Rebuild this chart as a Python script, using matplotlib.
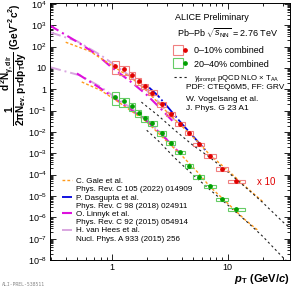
import matplotlib
import matplotlib.pyplot as plt
import numpy as np
from matplotlib.lines import Line2D
from matplotlib.legend_handler import HandlerTuple
from matplotlib.ticker import FuncFormatter, LogLocator, NullFormatter

matplotlib.use('Agg')

plt.rcParams['font.family'] = 'Liberation Sans'
plt.rcParams['mathtext.fontset'] = 'custom'
plt.rcParams['mathtext.rm'] = 'Liberation Sans'
plt.rcParams['mathtext.it'] = 'Liberation Sans:italic'
plt.rcParams['mathtext.bf'] = 'Liberation Sans:bold'
plt.rcParams['mathtext.bfit'] = 'Liberation Sans:italic:bold'

# measured points (0-10% already scaled x10)
pt = [1.07, 1.28, 1.5, 1.7, 1.93, 2.22, 2.7, 3.22, 3.9, 4.6, 5.6, 7.1, 9.0, 11.8]
pt_lo = [1.0, 1.15, 1.4, 1.6, 1.8, 2.05, 2.45, 2.95, 3.5, 4.3, 5.0, 6.3, 8.0, 10.0]
pt_hi = [1.15, 1.4, 1.6, 1.8, 2.05, 2.45, 2.95, 3.5, 4.3, 5.0, 6.3, 8.0, 10.0, 14.0]
central = [12.5, 8.5, 4.8, 2.5, 1.4, 0.7, 0.2, 0.07, 0.024, 0.009, 0.0027, 7.6e-4, 1.9e-4, 4.8e-5]
central_sys = [0.6, 0.45, 0.4, 0.35, 0.3, 0.27, 0.25, 0.22, 0.2, 0.2, 0.18, 0.18, 0.18, 0.18]
semi = [0.45, 0.28, 0.164, 0.079, 0.044, 0.026, 0.0085, 0.0032, 0.0011, 2.6e-4, 8e-5, 2.8e-5, 7.0e-6, 2.4e-6]
semi_sys = [0.6, 0.45, 0.4, 0.35, 0.3, 0.27, 0.25, 0.22, 0.2, 0.2, 0.18, 0.18, 0.18, 0.18]

# pQCD NLO x TAA
pqcd_hi_pt = [1.8, 2.5, 3.5, 5.0, 7.0, 10.0, 15.0, 20.0, 30.0, 34.5]
pqcd_hi = [0.25, 0.06, 0.012, 2.4e-3, 6.5e-4, 1.35e-4, 2.0e-5, 5.0e-6, 6.0e-7, 3.2e-7]
pqcd_lo_pt = [2.0, 2.5, 3.5, 5.0, 7.0, 10.0, 15.0, 20.0, 30.0, 34.5]
pqcd_lo = [0.012, 0.004, 6e-4, 1.0e-4, 2.0e-5, 3.8e-6, 5.5e-7, 1.3e-7, 1.3e-8, 6.5e-9]

# models
gale_hi_pt = [0.4, 0.65, 1.0, 1.5, 2.0, 3.0, 4.0, 5.5, 7.0, 10.0, 14.0, 20.0]
gale_hi = [160, 60, 13, 3.2, 0.85, 0.085, 0.019, 3.6e-3, 8.5e-4, 1.6e-4, 3.0e-5, 5.5e-6]
gale_lo_pt = [0.55, 0.8, 1.07, 1.5, 2.0, 3.0, 4.0, 5.5, 7.0, 10.0, 14.0, 18.0]
gale_lo = [2.2, 0.9, 0.32, 0.09, 0.03, 0.0035, 8e-4, 1.3e-4, 2.8e-5, 4.5e-6, 8e-7, 2.6e-7]
dasgupta_pt = [2.1, 2.5, 3.0, 4.0, 5.0, 6.5]
dasgupta = [1.2, 0.5, 0.16, 0.025, 0.0065, 1.3e-3]
linnyk_hi_pt = [0.29, 0.53, 0.75, 0.97, 1.5, 2.0, 2.7, 3.5]
linnyk_hi = [1000, 140, 40, 12, 2.0, 0.55, 0.11, 0.025]
linnyk_lo_pt = [0.5, 0.8, 1.07, 1.5, 2.0, 2.7, 3.8]
linnyk_lo = [5.5, 1.1, 0.35, 0.1, 0.032, 0.0075, 1.1e-3]
vanhees_hi_pt = [0.29, 0.5, 0.8, 1.0, 1.5, 2.0, 2.7, 3.5]
vanhees_hi = [480, 180, 40, 17, 3.5, 0.9, 0.18, 0.035]
vanhees_lo_pt = [0.29, 0.53, 0.8, 1.07, 1.5, 2.0, 2.7, 3.5]
vanhees_lo = [11, 4.5, 1.3, 0.42, 0.12, 0.035, 0.008, 0.0018]

RED, RED_BOX = '#e00000', '#f08080'
GREEN, GREEN_BOX = '#00a000', '#66cc66'
ORANGE, BLUE, MAGENTA, PLUM = '#ff9a1a', '#0000dd', '#dd11dd', '#d9a6e0'

fig = plt.figure(figsize=(2.99, 2.87), dpi=100)
ax = fig.add_axes([0.1656, 0.0941, 0.8044, 0.8954])

# models
for x, y in ((vanhees_hi_pt, vanhees_hi), (vanhees_lo_pt, vanhees_lo)):
    l_vh, = ax.plot(x, y, color=PLUM, lw=1.4, dashes=(6, 2, 1, 2))
for x, y in ((linnyk_hi_pt, linnyk_hi), (linnyk_lo_pt, linnyk_lo)):
    l_li, = ax.plot(x, y, color=MAGENTA, lw=1.5, dashes=(5, 2, 1, 2))
l_da, = ax.plot(dasgupta_pt, dasgupta, color=BLUE, lw=1.3, dashes=(8, 1.5, 1, 1.5))
for x, y in ((gale_hi_pt, gale_hi), (gale_lo_pt, gale_lo)):
    l_ga, = ax.plot(x, y, color=ORANGE, lw=1.0, dashes=(2, 1.5))
for x, y in ((pqcd_hi_pt, pqcd_hi), (pqcd_lo_pt, pqcd_lo)):
    l_pq, = ax.plot(x, y, color='#222222', lw=0.8, dashes=(2, 2.5))

# data with systematic boxes
lo = np.array(pt_lo)
wid = np.array(pt_hi) - lo
for vals, sys, c, cb in ((central, central_sys, RED, RED_BOX),
                         (semi, semi_sys, GREEN, GREEN_BOX)):
    v = np.array(vals)
    s = np.array(sys)
    ax.bar(lo, 2 * s * v, width=wid, bottom=v * (1 - s), align='edge',
           fill=False, edgecolor=cb, lw=0.8, zorder=4)
    ax.plot(pt, vals, 'o', color=c, ms=2.4, mec=c, zorder=5)

ax.set_xscale('log')
ax.set_yscale('log')
ax.set_xlim(0.29, 34.5)
ax.set_ylim(1e-8, 1.1e4)


def log_fmt(v, pos):
    e = int(round(np.log10(v)))
    if e == 0:
        return '1'
    if e == 1:
        return '10'
    return r'$10^{%d}$' % e


ax.yaxis.set_major_locator(LogLocator(base=10, numticks=20))
ax.yaxis.set_minor_locator(LogLocator(base=10, subs=np.arange(2, 10), numticks=20))
ax.yaxis.set_major_formatter(FuncFormatter(log_fmt))
ax.xaxis.set_major_formatter(FuncFormatter(log_fmt))
ax.xaxis.set_minor_formatter(NullFormatter())
ax.yaxis.set_minor_formatter(NullFormatter())
ax.tick_params(which='both', direction='in', top=True, right=True, labelsize=6.5, width=0.6, pad=2)
ax.tick_params(which='major', length=4)
ax.tick_params(which='minor', length=2)
for sp in ax.spines.values():
    sp.set_linewidth(0.7)

ax.set_xlabel(r'$\mathbfit{p}_{\mathbf{T}}$ (GeV/$\mathbfit{c}$)', fontsize=8,
              fontweight='bold', loc='right', labelpad=0)
ax.set_ylabel(r'$\mathbf{\dfrac{1}{2\pi N_{ev.}}\dfrac{d^{2}N_{\gamma,dir}}{p_{T}dp_{T}dy}}$ (GeV$^{\mathbf{-2}}\mathbf{c}^{\mathbf{2}}$)',
              fontsize=7.2, fontweight='bold', loc='top')
ax.yaxis.set_label_coords(-0.086, 1.0)

# header texts
ax.text(0.522, 0.945, 'ALICE Preliminary', transform=ax.transAxes, fontsize=6.5, va='center')
ax.text(0.530, 0.883, r'Pb–Pb $\sqrt{s_{\rm NN}}$ = 2.76 TeV', transform=ax.transAxes,
        fontsize=6.5, va='center')
ax.text(0.568, 0.670, 'PDF: CTEQ6M5, FF: GRV', transform=ax.transAxes, fontsize=6, va='center')
ax.text(0.568, 0.626, 'W. Vogelsang et al.', transform=ax.transAxes, fontsize=6, va='center')
ax.text(0.568, 0.588, 'J. Phys. G 23 A1', transform=ax.transAxes, fontsize=6, va='center')
ax.text(0.863, 0.3035, 'x 10', transform=ax.transAxes, fontsize=7, color=RED, va='center')
fig.text(0.005, 0.004, 'ALI-PREL-538511', fontsize=3.5, color='#888888', family='DejaVu Sans Mono')

box_r = Line2D([], [], ls='none', marker='s', ms=7, mfc='none', mec=RED_BOX, mew=0.8)
dot_r = Line2D([], [], ls='none', marker='o', ms=2.4, color=RED)
box_g = Line2D([], [], ls='none', marker='s', ms=7, mfc='none', mec=GREEN_BOX, mew=0.8)
dot_g = Line2D([], [], ls='none', marker='o', ms=2.4, color=GREEN)
leg1 = ax.legend([(box_r, dot_r), (box_g, dot_g), l_pq],
                 ['0–10% combined', '20–40% combined',
                  r'$\gamma_{\rm prompt}$ pQCD NLO $\times$ T$_{\rm AA}$'],
                 handler_map={tuple: HandlerTuple(ndivide=None, pad=0)},
                 loc='upper left', bbox_to_anchor=(0.518, 0.834), frameon=False,
                 fontsize=6.5, handlelength=1.6, handletextpad=0.6, labelspacing=0.55,
                 borderpad=0, borderaxespad=0)
leg1.get_texts()[2].set_fontsize(5.6)
ax.add_artist(leg1)

blank = Line2D([], [], color='none')
ax.legend([l_ga, blank, l_da, blank, l_li, blank, l_vh, blank],
          ['C. Gale et al.', 'Phys. Rev. C 105 (2022) 014909',
           'P. Dasgupta et al.', 'Phys. Rev. C 98 (2018) 024911',
           'O. Linnyk et al.', 'Phys. Rev. C 92 (2015) 054914',
           'H. van Hees et al.', 'Nucl. Phys. A 933 (2015) 256'],
          loc='upper left', bbox_to_anchor=(0.052, 0.321), frameon=False,
          fontsize=5.8, handlelength=1.25, handletextpad=0.5, labelspacing=0.07,
          borderpad=0, borderaxespad=0)

fig.savefig('out.png', dpi=100)
